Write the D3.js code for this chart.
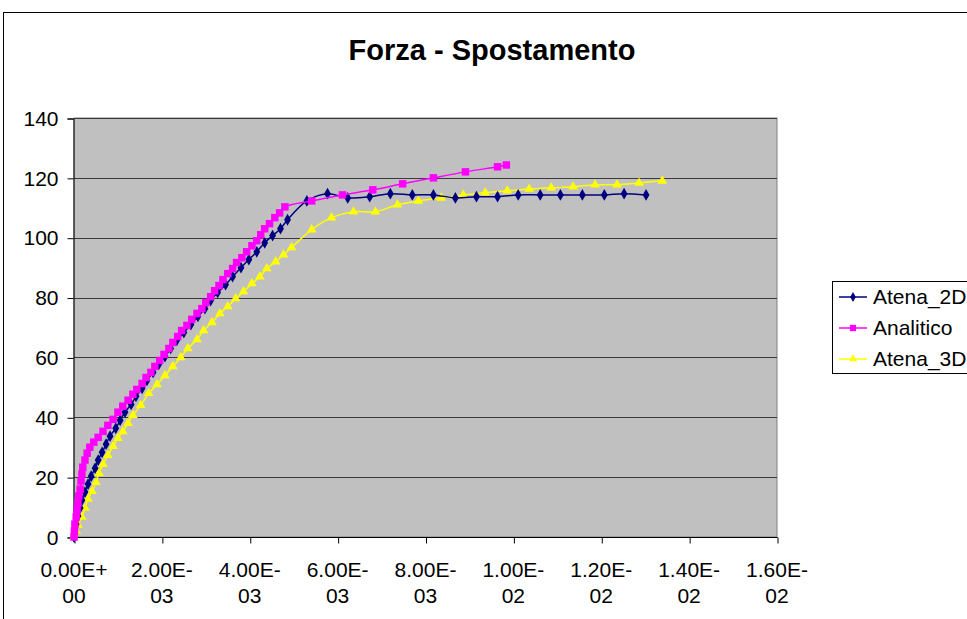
<!DOCTYPE html>
<html><head><meta charset="utf-8">
<script src="https://cdn.jsdelivr.net/npm/d3@7"></script>
<style>html,body{margin:0;padding:0;background:#fff;overflow:hidden}svg{display:block;font-family:"Liberation Sans",Arial,sans-serif}</style>
</head><body>
<svg id="c" width="967" height="619"></svg>
<script>
const title = "Forza - Spostamento";
const seriesNames = ["Atena_2D", "Analitico", "Atena_3D"];
const yTicks = [0, 20, 40, 60, 80, 100, 120, 140];
const xTicks = [0, 2e-3, 4e-3, 6e-3, 8e-3, 1e-2, 1.2e-2, 1.4e-2, 1.6e-2];
const xTickLine1 = ["0.00E+", "2.00E-", "4.00E-", "6.00E-", "8.00E-", "1.00E-", "1.20E-", "1.40E-", "1.60E-"];
const xTickLine2 = ["00", "03", "03", "03", "03", "02", "02", "02", "02"];

const atena2dX = [0, 0.02e-3, 0.05e-3, 0.09e-3, 0.14e-3, 0.18e-3, 0.25e-3, 0.32e-3, 0.39e-3, 0.48e-3, 0.55e-3, 0.64e-3, 0.73e-3, 0.82e-3, 0.95e-3, 1.05e-3, 1.16e-3, 1.30e-3, 1.41e-3, 1.55e-3, 1.66e-3, 1.80e-3, 1.93e-3, 2.07e-3, 2.20e-3, 2.34e-3, 2.50e-3, 2.66e-3, 2.82e-3, 2.98e-3, 3.11e-3, 3.27e-3, 3.45e-3, 3.61e-3, 3.80e-3, 3.98e-3, 4.16e-3, 4.34e-3, 4.52e-3, 4.70e-3, 4.86e-3, 5.30e-3, 5.77e-3, 6.23e-3, 6.73e-3, 7.20e-3, 7.70e-3, 8.18e-3, 8.68e-3, 9.16e-3, 9.64e-3, 10.11e-3, 10.61e-3, 11.07e-3, 11.57e-3, 12.07e-3, 12.52e-3, 13.02e-3];
const atena2dY = [0, 2.3, 4.3, 7.0, 9.7, 12.3, 15.0, 17.7, 20.3, 23.0, 25.7, 28.3, 31.0, 33.7, 36.3, 39.0, 41.7, 44.3, 47.0, 49.7, 52.3, 55.0, 57.7, 60.3, 63.0, 65.7, 68.3, 71.0, 73.7, 76.3, 79.0, 81.7, 84.3, 87.0, 90.0, 92.7, 95.3, 98.3, 100.7, 103.0, 106.0, 112.3, 114.7, 113.3, 113.7, 114.7, 114.3, 114.3, 113.3, 113.7, 113.7, 114.3, 114.3, 114.3, 114.3, 114.3, 114.7, 114.3];

const analiticoX = [0, 0.01e-3, 0.02e-3, 0.05e-3, 0.07e-3, 0.09e-3, 0.11e-3, 0.14e-3, 0.16e-3, 0.18e-3, 0.20e-3, 0.25e-3, 0.30e-3, 0.36e-3, 0.45e-3, 0.55e-3, 0.66e-3, 0.77e-3, 0.89e-3, 1.00e-3, 1.11e-3, 1.23e-3, 1.34e-3, 1.43e-3, 1.55e-3, 1.64e-3, 1.75e-3, 1.84e-3, 1.95e-3, 2.05e-3, 2.16e-3, 2.25e-3, 2.36e-3, 2.45e-3, 2.57e-3, 2.68e-3, 2.80e-3, 2.91e-3, 3.00e-3, 3.11e-3, 3.20e-3, 3.30e-3, 3.39e-3, 3.50e-3, 3.61e-3, 3.70e-3, 3.82e-3, 3.93e-3, 4.05e-3, 4.16e-3, 4.25e-3, 4.34e-3, 4.45e-3, 4.57e-3, 4.68e-3, 4.80e-3, 5.41e-3, 6.11e-3, 6.80e-3, 7.48e-3, 8.18e-3, 8.91e-3, 9.64e-3, 9.84e-3];
const analiticoY = [0, 2.0, 4.3, 6.7, 9.0, 11.3, 13.7, 16.0, 18.7, 21.0, 23.3, 25.7, 28.0, 30.0, 31.7, 33.3, 35.3, 37.3, 39.3, 41.7, 43.7, 45.7, 47.7, 49.3, 51.3, 53.3, 55.0, 57.0, 59.0, 61.0, 63.0, 65.0, 67.0, 69.0, 70.7, 72.7, 74.7, 76.3, 78.3, 80.3, 82.3, 84.0, 86.0, 88.0, 89.7, 91.7, 93.3, 95.3, 97.3, 99.0, 101.0, 103.0, 104.7, 106.7, 108.3, 110.3, 112.3, 114.3, 116.0, 118.0, 120.0, 122.0, 123.7, 124.3];

const atena3dX = [0, 0.05e-3, 0.09e-3, 0.18e-3, 0.25e-3, 0.32e-3, 0.41e-3, 0.50e-3, 0.57e-3, 0.66e-3, 0.77e-3, 0.89e-3, 1.00e-3, 1.11e-3, 1.23e-3, 1.34e-3, 1.52e-3, 1.70e-3, 1.89e-3, 2.07e-3, 2.25e-3, 2.43e-3, 2.59e-3, 2.80e-3, 2.95e-3, 3.14e-3, 3.32e-3, 3.50e-3, 3.68e-3, 3.86e-3, 4.05e-3, 4.23e-3, 4.39e-3, 4.59e-3, 4.77e-3, 4.95e-3, 5.41e-3, 5.86e-3, 6.36e-3, 6.86e-3, 7.36e-3, 7.84e-3, 8.36e-3, 8.86e-3, 9.36e-3, 9.86e-3, 10.36e-3, 10.86e-3, 11.36e-3, 11.86e-3, 12.36e-3, 12.86e-3, 13.39e-3];
const atena3dY = [0, 2.0, 4.0, 6.7, 9.7, 12.7, 15.3, 18.3, 21.3, 24.3, 27.3, 30.3, 33.0, 35.3, 38.0, 40.7, 44.0, 48.0, 51.0, 54.0, 57.0, 60.0, 63.0, 66.0, 69.0, 71.7, 74.7, 77.0, 79.7, 82.0, 84.7, 87.0, 89.7, 92.0, 94.3, 96.7, 102.7, 106.7, 108.7, 108.7, 111.0, 112.3, 113.3, 114.3, 115.0, 115.7, 116.3, 116.7, 117.0, 117.7, 117.7, 118.3, 119.0];

const svg = d3.select("#c");
const plot = {x0: 74, x1: 777, y0: 118, y1: 537};
const x = d3.scaleLinear().domain([0, 0.016]).range([plot.x0, plot.x1]);
const y = d3.scaleLinear().domain([0, 140]).range([plot.y1, plot.y0]);

// chart area border
svg.append("rect").attr("x", 3.5).attr("y", 12.5).attr("width", 1100).attr("height", 800)
  .attr("fill", "#fff").attr("stroke", "#000").attr("stroke-width", 1);

svg.append("text").attr("x", 492).attr("y", 60).attr("text-anchor", "middle")
  .attr("font-size", 29).attr("font-weight", "bold").text(title);

// plot area
svg.append("rect").attr("x", plot.x0).attr("y", plot.y0).attr("width", plot.x1 - plot.x0).attr("height", plot.y1 - plot.y0)
  .attr("fill", "#C0C0C0").attr("stroke", "#808080").attr("stroke-width", 1);

// gridlines
svg.append("g").selectAll("line").data(yTicks.filter(d => d > 0)).join("line")
  .attr("x1", plot.x0).attr("x2", plot.x1)
  .attr("y1", d => Math.round(y(d)) + 0.5).attr("y2", d => Math.round(y(d)) + 0.5)
  .attr("stroke", "#3a3a3a").attr("stroke-width", 1);

// axes
const yAxis = d3.axisLeft(y).tickValues(yTicks).tickSize(6).tickPadding(9).tickFormat(d3.format("d"));
const gy = svg.append("g").attr("transform", `translate(${plot.x0 - 0.5},0.5)`).call(yAxis);
gy.selectAll("text").attr("font-size", 21).attr("fill", "#000").attr("font-family", "Liberation Sans, Arial, sans-serif");
gy.selectAll("line,path").attr("stroke", "#000");

const xAxis = d3.axisBottom(x).tickValues(xTicks).tickSize(6).tickFormat(() => "");
const gx = svg.append("g").attr("transform", `translate(0.5,${plot.y1 + 0.5})`).call(xAxis);
gx.selectAll("line,path").attr("stroke", "#000");
gx.select(".domain").attr("d", `M${plot.x0 - 0.5},0H${plot.x1}`);
const xl = svg.append("g").attr("font-size", 21).attr("text-anchor", "middle");
xl.selectAll("text.l1").data(xTicks).join("text").attr("class", "l1")
  .attr("x", d => x(d)).attr("y", 577).text((d, i) => xTickLine1[i]);
xl.selectAll("text.l2").data(xTicks).join("text").attr("class", "l2")
  .attr("x", d => x(d)).attr("y", 603).text((d, i) => xTickLine2[i]);

// series
const series = [
  {name: seriesNames[0], xs: atena2dX, ys: atena2dY, color: "#000080", sym: d3.symbolDiamond, size: 40},
  {name: seriesNames[1], xs: analiticoX, ys: analiticoY, color: "#FF00FF", sym: d3.symbolSquare, size: 56},
  {name: seriesNames[2], xs: atena3dX, ys: atena3dY, color: "#FFFF00", sym: d3.symbolTriangle, size: 40}
];
const line = d3.line().x(d => x(d[0])).y(d => y(d[1])).curve(d3.curveCatmullRom.alpha(0.5));
const order = [2, 0, 1];
order.forEach(i => {
  const s = series[i];
  const pts = s.xs.map((v, j) => [v, s.ys[j]]);
  const g = svg.append("g");
  g.append("path").attr("d", line(pts)).attr("fill", "none").attr("stroke", s.color).attr("stroke-width", 1.5);
  g.selectAll("path.m").data(pts).join("path").attr("class", "m")
    .attr("transform", d => `translate(${x(d[0])},${y(d[1])})`)
    .attr("d", d3.symbol().type(s.sym).size(s.size)).attr("fill", s.color);
});

// legend
const lg = svg.append("g");
lg.append("rect").attr("x", 832.5).attr("y", 281.5).attr("width", 200).attr("height", 92)
  .attr("fill", "#fff").attr("stroke", "#000").attr("stroke-width", 1);
const rowsY = [297, 328, 359];
series.forEach((s, i) => {
  const yy = rowsY[i];
  lg.append("line").attr("x1", 839).attr("x2", 867).attr("y1", yy).attr("y2", yy).attr("stroke", s.color).attr("stroke-width", 1.5);
  lg.append("path").attr("transform", `translate(853,${yy})`).attr("d", d3.symbol().type(s.sym).size(s.size * 0.7)).attr("fill", s.color);
  lg.append("text").attr("x", 873).attr("y", yy + 7).attr("font-size", 21).text(s.name);
});
</script>
</body></html>
